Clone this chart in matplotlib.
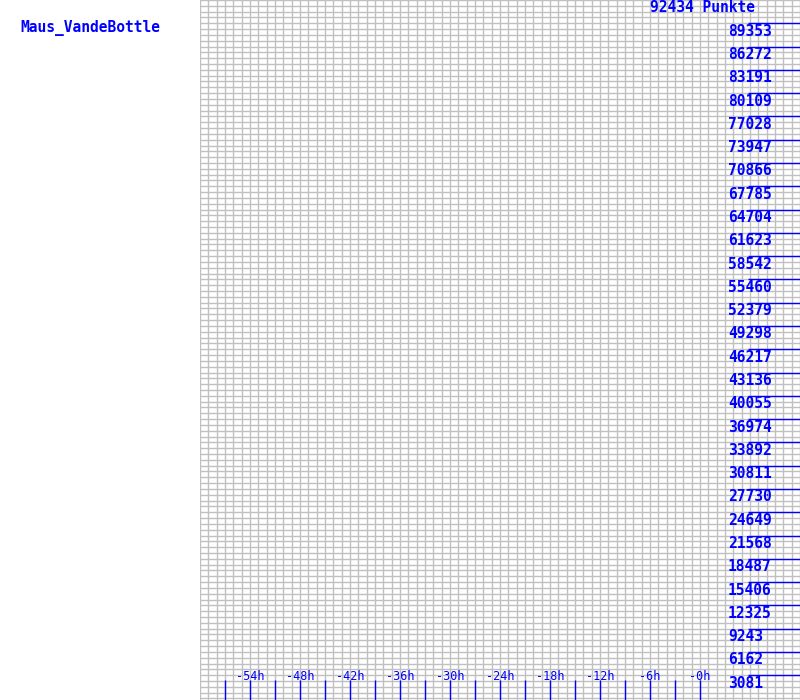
import matplotlib
matplotlib.use("Agg")
import matplotlib.pyplot as plt
import matplotlib.transforms as mtransforms
import numpy as np

# chart data
player = "Maus_VandeBottle"
total_points = 92434
y_labels = [3081, 6162, 9243, 12325, 15406, 18487, 21568, 24649, 27730, 30811,
            33892, 36974, 40055, 43136, 46217, 49298, 52379, 55460, 58542, 61623,
            64704, 67785, 70866, 73947, 77028, 80109, 83191, 86272, 89353]
hour_labels = [-54, -48, -42, -36, -30, -24, -18, -12, -6, 0]
hour_marks = [-57, -51, -45, -39, -33, -27, -21, -15, -9, -3]

blue = "#0000ff"
grey = "#c0c0c0"
mono = "DejaVu Sans Mono"

fig = plt.figure(figsize=(8, 7), dpi=100)
ax = fig.add_axes([0.25, 0, 0.75, 1])
ax.set_xlim(-60, 12)
ax.set_ylim(-200, total_points)

# light grid: one line per hour, four per label step
ax.set_xticks(np.arange(-60, 13, 1))
ax.set_yticks(np.arange(0, 121) * total_points / 120)
ax.grid(True, color=grey, linewidth=1.0)
ax.tick_params(length=0, labelbottom=False, labelleft=False)
for s in ax.spines.values():
    s.set_visible(False)

# y scale marks and labels
ytrans = ax.get_yaxis_transform()
ax.hlines(y_labels, 0.913, 1.0, transform=ytrans, color=blue, linewidth=1.0)
lab_trans = mtransforms.offset_copy(ytrans, fig=fig, y=-8, units="dots")
for v in y_labels:
    ax.text(0.88, v, str(v), transform=lab_trans, ha="left", va="center",
            color=blue, fontsize=10.5, family=mono, weight="bold")

# time axis marks and labels
xtrans = ax.get_xaxis_transform()
ax.vlines(hour_marks + hour_labels, 0, 20 / 700, transform=xtrans,
          color=blue, linewidth=1.0)
for h in hour_labels:
    ax.text(h, 23 / 700, f"-{abs(h)}h", transform=xtrans, ha="center",
            va="center", color=blue, fontsize=8.5, family=mono)

ax.text(502 / 600, 1 - 7 / 700, f"{total_points} Punkte", transform=ax.transAxes,
        ha="center", va="center", color=blue, fontsize=10.5, family=mono,
        weight="bold")
fig.text(20 / 800, 1 - 28 / 700, player, ha="left", va="center",
         color=blue, fontsize=10.5, family=mono, weight="bold")

fig.savefig("out.png", dpi=100)
